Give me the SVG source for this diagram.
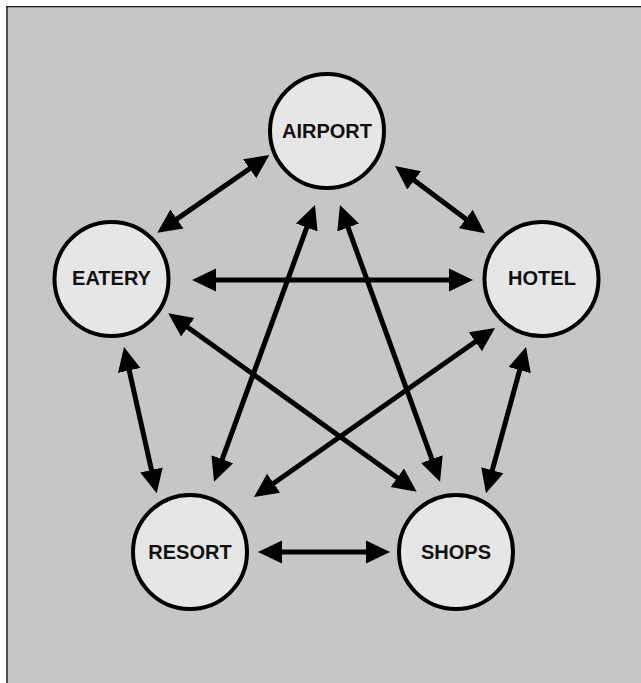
<svg xmlns="http://www.w3.org/2000/svg" width="641" height="683" viewBox="0 0 641 683">
<style>
.node circle{fill:#e6e6e6;stroke:#000;stroke-width:4}
.node text{font-family:"Liberation Sans",Arial,sans-serif;font-weight:bold;font-size:20px;fill:#111;text-anchor:middle}
.conn line{stroke:#000;stroke-width:5;marker-start:url(#ah);marker-end:url(#ah)}
</style>
<defs>
<marker id="ah" markerUnits="userSpaceOnUse" markerWidth="26" markerHeight="26" viewBox="0 0 26 26" refX="13" refY="13" orient="auto-start-reverse">
<path d="M0,1.5 L24,13 L0,24.5 Z" fill="#000"/>
</marker>
</defs>
<rect x="0" y="0" width="641" height="683" fill="#fff"/>
<rect x="6" y="6" width="635" height="677" fill="#c6c6c6"/>
<rect x="6" y="6" width="2" height="677" fill="#4d4d4d"/>
<rect x="6" y="6" width="635" height="1.3" fill="#1a1a1a"/>
<g class="conn" id="connectors">
<line x1="260.3" y1="161.3" x2="166.3" y2="226.4"/>
<line x1="403.8" y1="172.6" x2="476.2" y2="226.7"/>
<line x1="203" y1="280" x2="462" y2="280"/>
<line x1="177.2" y1="319.7" x2="407.8" y2="485.3"/>
<line x1="486" y1="334.3" x2="263" y2="490.7"/>
<line x1="311.2" y1="215.3" x2="217.8" y2="471.4"/>
<line x1="343.7" y1="215.3" x2="436.3" y2="471.4"/>
<line x1="126.4" y1="357.7" x2="154.3" y2="482.6"/>
<line x1="523.1" y1="357.6" x2="488.9" y2="482.7"/>
<line x1="269" y1="552" x2="379" y2="552"/>
</g>
<g class="node" id="airport"><circle cx="327" cy="131" r="57"/><text x="327" y="138">AIRPORT</text></g>
<g class="node" id="eatery"><circle cx="111.5" cy="279" r="57"/><text x="111.5" y="285">EATERY</text></g>
<g class="node" id="hotel"><circle cx="541.5" cy="279" r="57"/><text x="542" y="285">HOTEL</text></g>
<g class="node" id="resort"><circle cx="190" cy="552" r="57"/><text x="190" y="559">RESORT</text></g>
<g class="node" id="shops"><circle cx="456" cy="552" r="57"/><text x="456" y="559">SHOPS</text></g>
</svg>
